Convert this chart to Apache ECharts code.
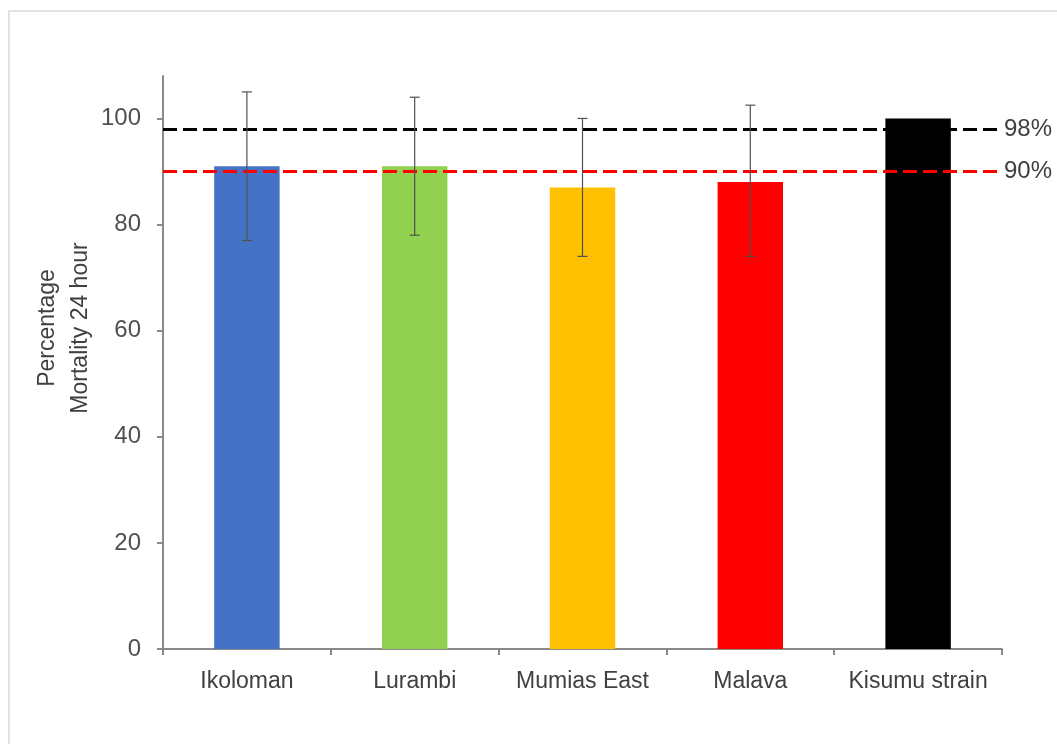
<!DOCTYPE html>
<html><head><meta charset="utf-8">
<script src="https://cdn.jsdelivr.net/npm/echarts@6/dist/echarts.min.js"></script>
<style>
html,body{margin:0;padding:0;background:#fff;}
#frame{position:absolute;left:8px;top:10px;width:1100px;height:800px;border-top:2px solid #e3e3e3;border-left:2px solid #e3e3e3;}
#c{position:absolute;left:0;top:0;width:1057px;height:744px;}
</style></head>
<body>
<div id="frame"></div>
<div id="c"></div>
<script>
const categories = ['Ikoloman', 'Lurambi', 'Mumias East', 'Malava', 'Kisumu strain'];
const mortality = [91, 91, 87, 88, 100];
const errorLow = [77, 78, 74, 74, null];
const errorHigh = [105, 104, 100, 102.5, null];
const barColors = ['#4472C4', '#92D050', '#FFC000', '#FF0000', '#000000'];
const yTicks = [0, 20, 40, 60, 80, 100];
const thresholds = [98, 90];
const thresholdLabels = ['98%', '90%'];
const thresholdColors = ['#000000', '#FF0000'];
const yAxisTitle = 'Percentage\nMortality 24 hour';

const FONT = 'Liberation Sans, Arial, sans-serif';
const chart = echarts.init(document.getElementById('c'));
const errData = categories.map((c, i) => [i, errorLow[i], errorHigh[i]]).filter(d => d[1] !== null);

chart.setOption({
  animation: false,
  grid: {left: 163, right: 55, top: 76, bottom: 95},
  graphic: [{
    type: 'text', x: 64, y: 328, rotation: Math.PI / 2,
    style: {text: yAxisTitle, fill: '#404040', font: '23px ' + FONT, align: 'center', verticalAlign: 'middle', lineHeight: 33}
  }],
  xAxis: {
    type: 'category', data: categories,
    axisLine: {lineStyle: {color: '#8a8a8a', width: 2}},
    axisTick: {show: true, alignWithLabel: false, length: 6, lineStyle: {color: '#8a8a8a', width: 2}},
    axisLabel: {color: '#404040', fontSize: 23, fontFamily: FONT, margin: 21, interval: 0, hideOverlap: false}
  },
  yAxis: {
    type: 'value', min: 0, max: 108, interval: 20,
    splitLine: {show: false},
    axisLine: {show: true, lineStyle: {color: '#8a8a8a', width: 2}},
    axisTick: {show: true, length: 6, lineStyle: {color: '#8a8a8a', width: 2}, customValues: yTicks},
    axisLabel: {color: '#505050', fontSize: 24, fontFamily: FONT, margin: 22, customValues: yTicks}
  },
  series: [
    {
      type: 'bar', barWidth: '39%',
      data: mortality.map((v, i) => ({value: v, itemStyle: {color: barColors[i]}})),
      markLine: {
        symbol: 'none', silent: true,
        data: thresholds.map((t, i) => ({
          yAxis: t,
          lineStyle: {color: thresholdColors[i], type: [14, 6], width: 3},
          label: {show: true, position: 'end', formatter: thresholdLabels[i], color: '#404040', fontSize: 24, fontFamily: FONT, distance: 2}
        }))
      }
    },
    {
      type: 'custom', z: 10,
      data: errData,
      renderItem: function (params, api) {
        const x = api.value(0), lo = api.value(1), hi = api.value(2);
        const p1 = api.coord([x, lo]), p2 = api.coord([x, hi]);
        const w = 5;
        const st = {stroke: '#505050', lineWidth: 1.2};
        return {type: 'group', children: [
          {type: 'line', shape: {x1: p1[0], y1: p1[1], x2: p2[0], y2: p2[1]}, style: st},
          {type: 'line', shape: {x1: p1[0]-w, y1: p1[1], x2: p1[0]+w, y2: p1[1]}, style: st},
          {type: 'line', shape: {x1: p2[0]-w, y1: p2[1], x2: p2[0]+w, y2: p2[1]}, style: st}
        ]};
      }
    }
  ]
});
</script>
</body></html>
